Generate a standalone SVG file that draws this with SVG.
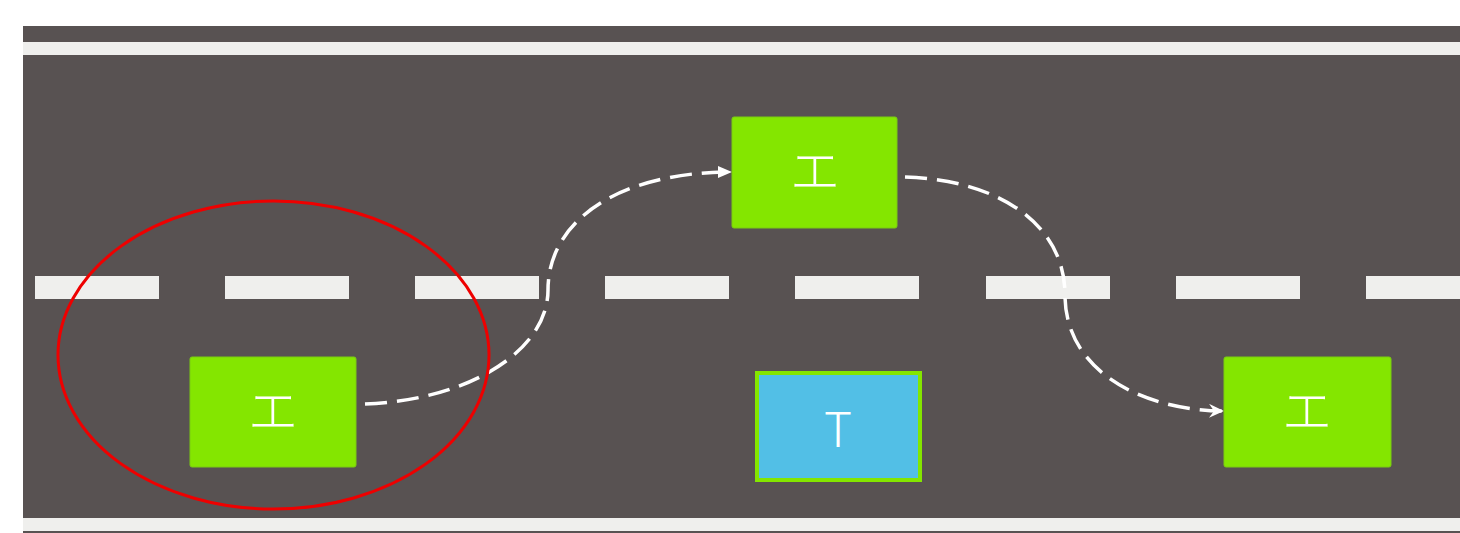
<svg xmlns="http://www.w3.org/2000/svg" width="1460" height="533" viewBox="0 0 1460 533">
<style>
.road{fill:#585252}
.line{fill:#EFEFED}
.car{fill:#84E600;stroke:#7ACC10;stroke-width:1}
.truck{fill:#52BFE6;stroke:#84E600;stroke-width:4}
.lbl{fill:#FFFFFF;font-family:"Noto Sans CJK JP","DejaVu Sans",sans-serif;font-size:50px;text-anchor:middle;dominant-baseline:central;font-weight:300}
.lblT{fill:#FFFFFF;font-family:"Noto Sans CJK JP","Liberation Sans",sans-serif;font-size:48px;text-anchor:middle;dominant-baseline:central;font-weight:300}
.conn{fill:none;stroke:#FFFFFF;stroke-width:3.5;stroke-dasharray:22 10}
</style>
<defs>
<marker id="tri" markerWidth="16" markerHeight="16" refX="13" refY="7" orient="auto" markerUnits="userSpaceOnUse">
<path d="M0,1 L14,7 L0,13 Z" fill="#FFFFFF"/>
</marker>
<marker id="notch" markerWidth="16" markerHeight="16" refX="14" refY="7" orient="auto" markerUnits="userSpaceOnUse">
<path d="M0,0 L15,7 L0,14 L5,7 Z" fill="#FFFFFF"/>
</marker>
</defs>
<g id="road">
<rect class="road" x="23" y="26" width="1437" height="507"/>
<rect class="line" x="23" y="42" width="1437" height="13"/>
<rect class="line" x="23" y="518" width="1437" height="13"/>
<g class="line">
<rect x="35" y="276" width="124" height="23"/>
<rect x="225" y="276" width="124" height="23"/>
<rect x="415" y="276" width="124" height="23"/>
<rect x="605" y="276" width="124" height="23"/>
<rect x="795" y="276" width="124" height="23"/>
<rect x="986" y="276" width="124" height="23"/>
<rect x="1176" y="276" width="124" height="23"/>
<rect x="1366" y="276" width="124" height="23"/>
</g>
</g>
<g id="connectors">
<path class="conn" d="M365,404 C470,400 548,350 548,290 C548,220 620,172 731,172" marker-end="url(#tri)"/>
<path class="conn" d="M905,177 C1000,180 1065,225 1065,295 C1065,370 1140,410 1223,411" marker-end="url(#notch)"/>
</g>
<g id="car1">
<rect class="car" x="190" y="357" width="166" height="110" rx="2"/>
<text class="lbl" x="273" y="407">エ</text>
</g>
<g id="car2">
<rect class="car" x="732" y="117" width="165" height="111" rx="2"/>
<text class="lbl" x="815" y="167">エ</text>
</g>
<g id="car3">
<rect class="car" x="1224" y="357" width="167" height="110" rx="2"/>
<text class="lbl" x="1307" y="407">エ</text>
</g>
<g id="truck">
<rect class="truck" x="757" y="373" width="163" height="107"/>
<text class="lblT" x="838" y="426">T</text>
</g>
<g id="highlight">
<ellipse cx="273.5" cy="355" rx="215.5" ry="154" fill="none" stroke="#EE0000" stroke-width="3"/>
</g>
</svg>
